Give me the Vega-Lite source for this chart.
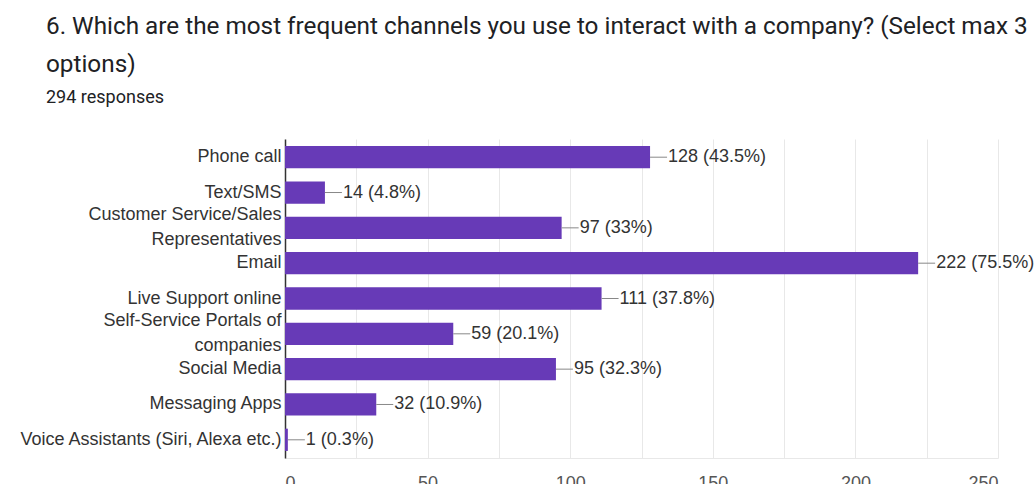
{
  "$schema": "https://vega.github.io/schema/vega-lite/v6.json",
  "width": 713,
  "height": 319,
  "autosize": {"type": "none"},
  "padding": {"left": 285, "top": 139, "right": 36, "bottom": 26},
  "background": "white",
  "title": {
    "text": ["6. Which are the most frequent channels you use to interact with a company? (Select max 3", "options)"],
    "subtitle": "294 responses",
    "anchor": "start",
    "frame": "group",
    "dx": -239,
    "font": "Roboto",
    "fontSize": 24.3,
    "fontWeight": "normal",
    "color": "#202124",
    "lineHeight": 38,
    "subtitleFont": "Roboto",
    "subtitleFontSize": 18,
    "subtitleColor": "#202124",
    "subtitlePadding": 12,
    "offset": 32
  },
  "data": {
    "values": [
      {"channel": "Phone call", "count": 128, "label": "128 (43.5%)"},
      {"channel": "Text/SMS", "count": 14, "label": "14 (4.8%)"},
      {"channel": "Customer Service/Sales Representatives", "count": 97, "label": "97 (33%)"},
      {"channel": "Email", "count": 222, "label": "222 (75.5%)"},
      {"channel": "Live Support online", "count": 111, "label": "111 (37.8%)"},
      {"channel": "Self-Service Portals of companies", "count": 59, "label": "59 (20.1%)"},
      {"channel": "Social Media", "count": 95, "label": "95 (32.3%)"},
      {"channel": "Messaging Apps", "count": 32, "label": "32 (10.9%)"},
      {"channel": "Voice Assistants (Siri, Alexa etc.)", "count": 1, "label": "1 (0.3%)"}
    ]
  },
  "encoding": {
    "y": {
      "field": "channel",
      "type": "nominal",
      "sort": null,
      "scale": {"paddingInner": 0.37, "paddingOuter": 0.2},
      "axis": {
        "title": null,
        "ticks": false,
        "labelPadding": 4,
        "labelFont": "Liberation Sans",
        "labelFontSize": 18,
        "labelColor": "#333333",
        "labelLineHeight": 25,
        "labelBaseline": "middle",
        "labelOffset": {
          "condition": {
            "test": "datum.value == 'Customer Service/Sales Representatives' || datum.value == 'Self-Service Portals of companies'",
            "value": -12.5
          },
          "value": 0
        },
        "labelLimit": 400,
        "domainColor": "#333333",
        "domainWidth": 1.5,
        "labelExpr": "datum.label == 'Customer Service/Sales Representatives' ? ['Customer Service/Sales', 'Representatives'] : datum.label == 'Self-Service Portals of companies' ? ['Self-Service Portals of', 'companies'] : datum.label"
      }
    }
  },
  "layer": [
    {
      "mark": {"type": "bar", "color": "#673ab7"},
      "encoding": {
        "x": {
          "field": "count",
          "type": "quantitative",
          "scale": {"domain": [0, 250], "nice": false},
          "axis": {
            "title": null,
            "values": [0, 25, 50, 75, 100, 125, 150, 175, 200, 225, 250],
            "labelExpr": "datum.value % 50 === 0 ? datum.label : ''",
            "ticks": false,
            "labelPadding": 16,
            "labelFont": "Liberation Sans",
            "labelFontSize": 18,
            "labelColor": "#555555",
            "gridColor": "#e8e8e8",
            "domainColor": "#e8e8e8"
          }
        }
      }
    },
    {
      "mark": {"type": "rule", "color": "#888888", "x2Offset": 17},
      "encoding": {
        "x": {"field": "count", "type": "quantitative"},
        "x2": {"field": "count"}
      }
    },
    {
      "mark": {"type": "text", "align": "left", "baseline": "middle", "dx": 18, "font": "Liberation Sans", "fontSize": 18, "color": "#333333"},
      "encoding": {
        "x": {"field": "count", "type": "quantitative"},
        "text": {"field": "label"}
      }
    }
  ],
  "config": {"view": {"stroke": null}}
}
